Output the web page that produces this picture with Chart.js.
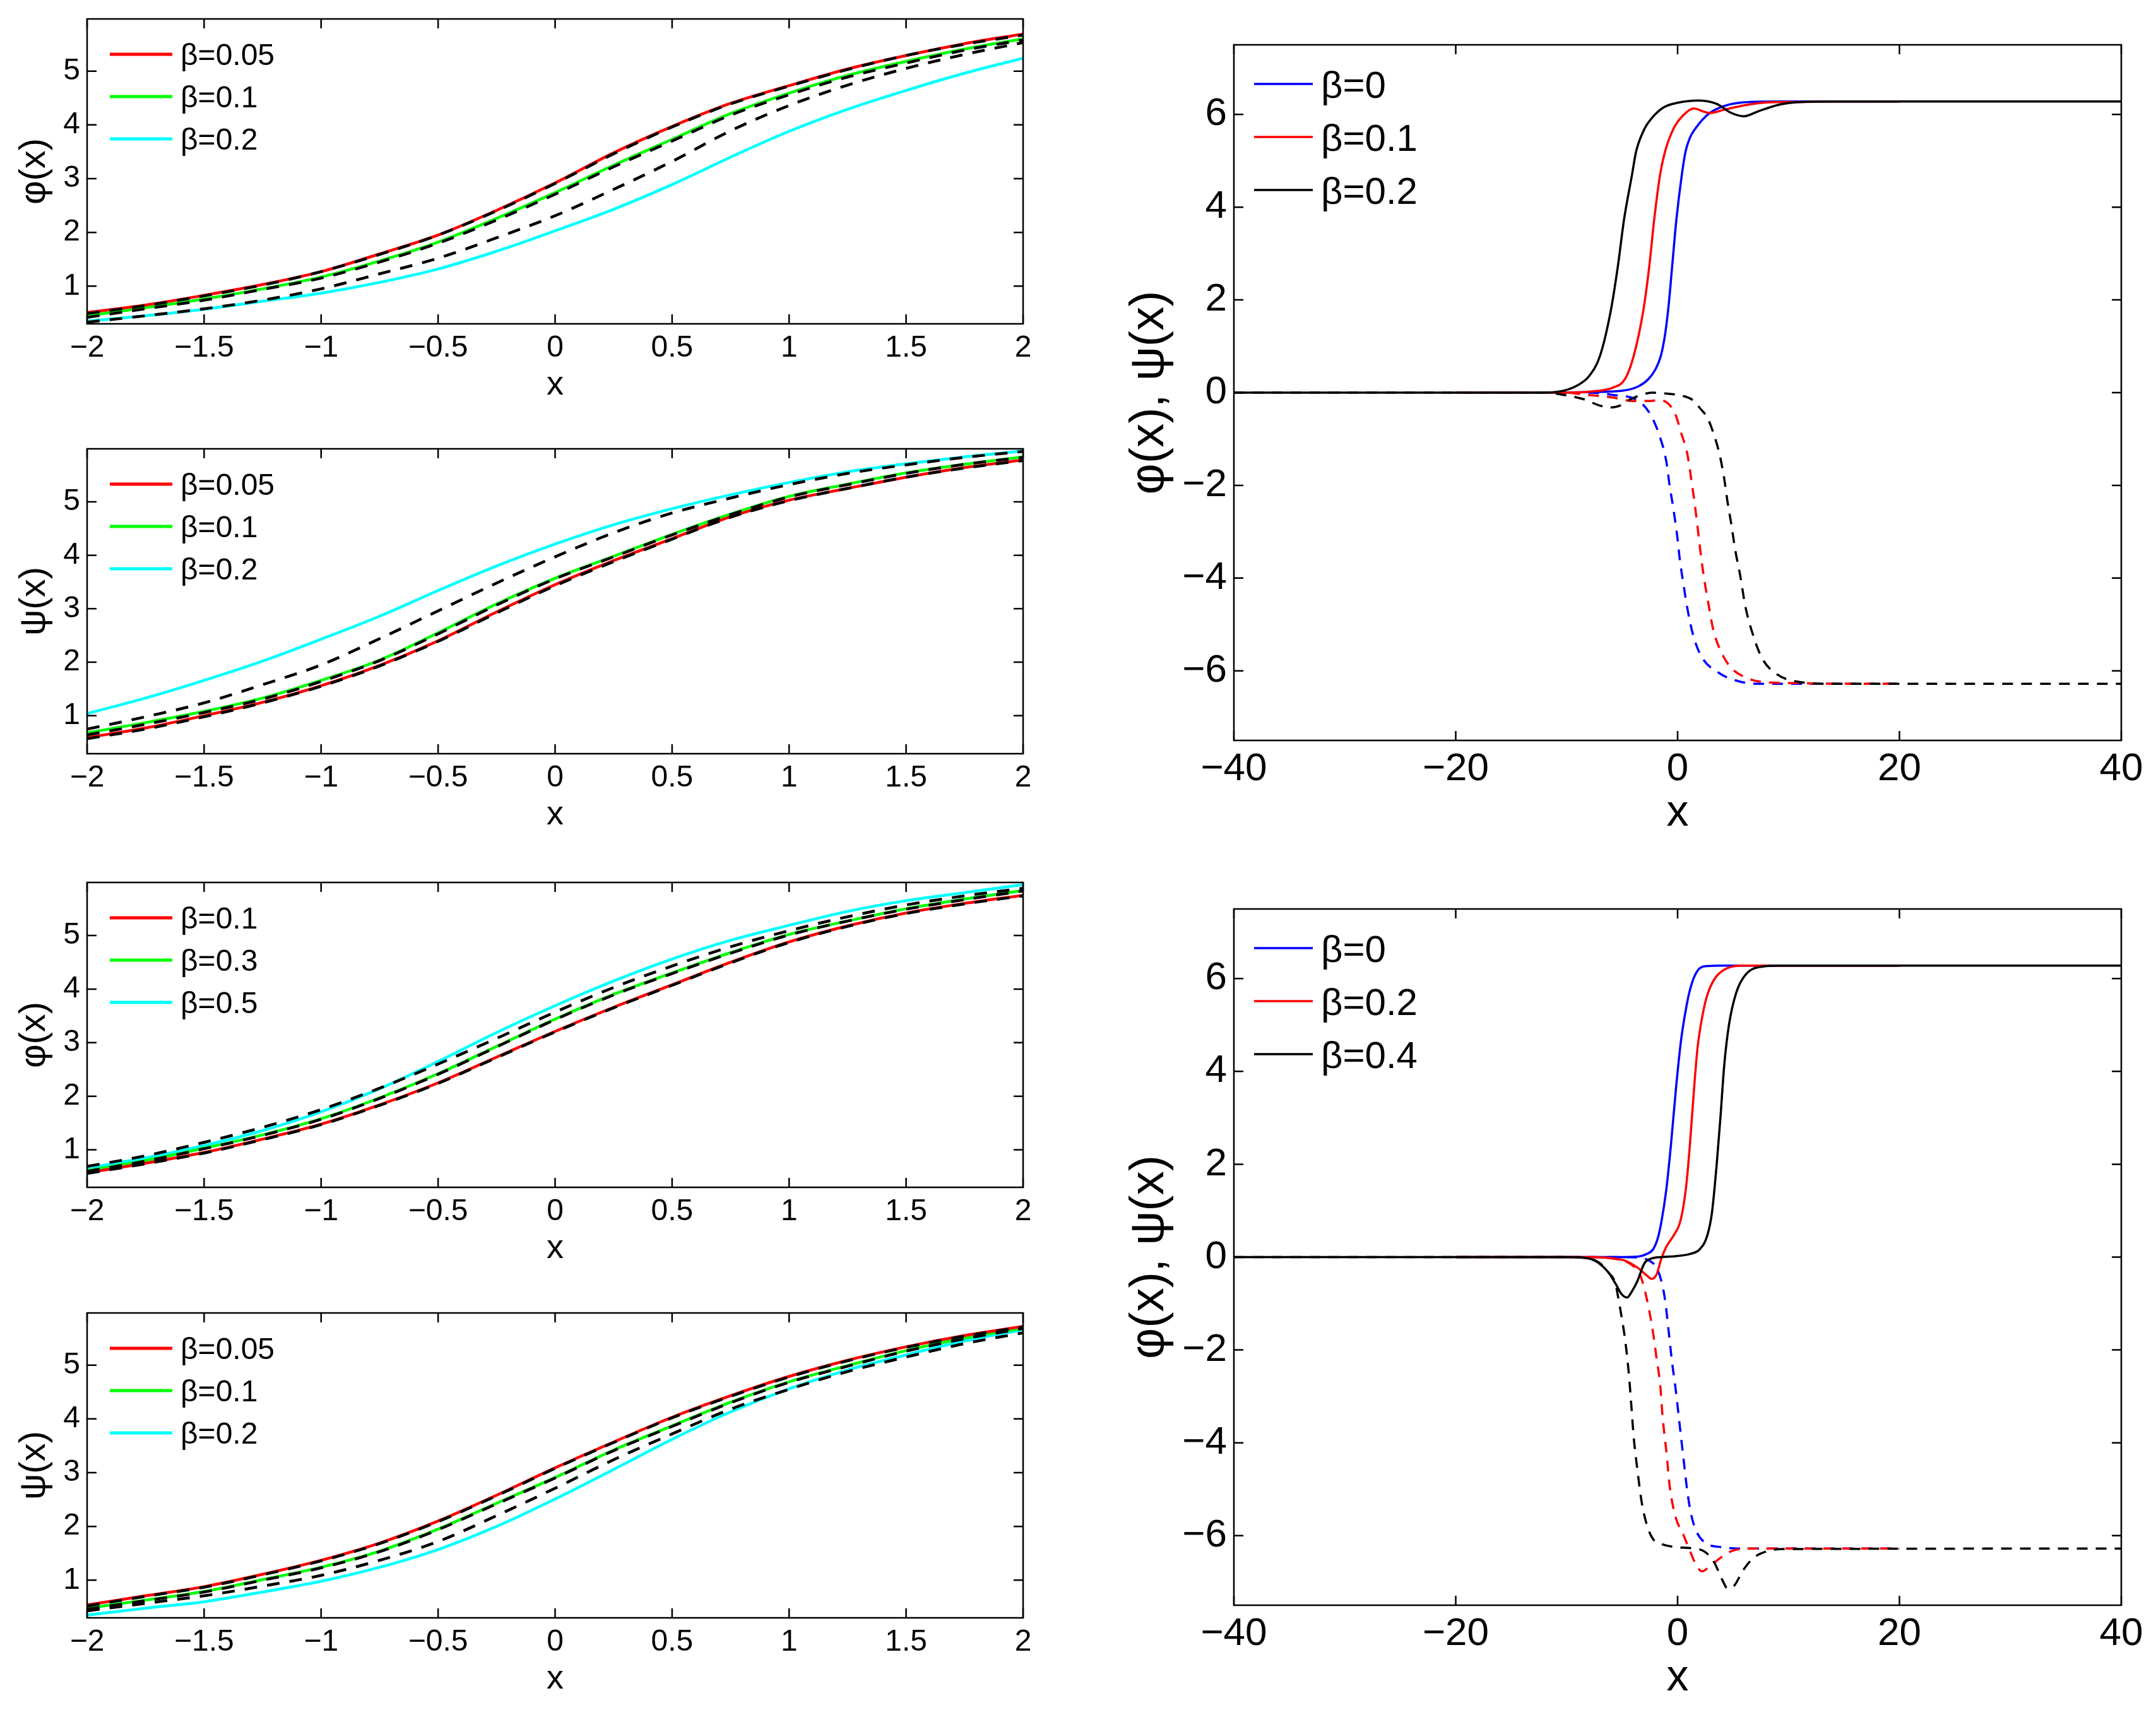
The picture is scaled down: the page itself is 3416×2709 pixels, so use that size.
<!DOCTYPE html>
<html><head><meta charset="utf-8">
<script src="https://cdn.jsdelivr.net/npm/chart.js@4/dist/chart.umd.min.js"></script>
<style>
html,body{margin:0;padding:0;background:#fff;}
body{width:3416px;height:2709px;position:relative;overflow:hidden;}
canvas{position:absolute;}
</style></head><body>
<canvas id="c1"></canvas><canvas id="c2"></canvas><canvas id="c3"></canvas><canvas id="c4"></canvas>
<canvas id="c5"></canvas><canvas id="c6"></canvas>
<script>
// ---------- tick labels ----------
const X_TICKS_LEFT = [-2,-1.5,-1,-0.5,0,0.5,1,1.5,2];
const Y_TICKS_LEFT = [1,2,3,4,5];
const X_TICKS_RIGHT = [-40,-20,0,20,40];
const Y_TICKS_RIGHT = [-6,-4,-2,0,2,4,6];

// ---------- left panels: common x grid ----------
const X_LEFT = [-2,-1.75,-1.5,-1.25,-1,-0.75,-0.5,-0.25,0,0.25,0.5,0.75,1,1.25,1.5,1.75,2];

// panel 1: phi(x), beta = 0.05, 0.1, 0.2
const P1_LABELS = ['β=0.05','β=0.1','β=0.2'];
const P1_RED   = [0.51,0.65,0.83,1.03,1.27,1.60,1.95,2.41,2.92,3.48,3.97,4.40,4.73,5.04,5.29,5.51,5.69];
const P1_GREEN = [0.45,0.60,0.76,0.95,1.17,1.47,1.82,2.26,2.74,3.25,3.73,4.21,4.59,4.92,5.18,5.41,5.60];
const P1_CYAN  = [0.35,0.45,0.57,0.72,0.87,1.07,1.32,1.65,2.03,2.43,2.89,3.40,3.88,4.29,4.64,4.96,5.24];
const P1_DASH_A = [0.49,0.64,0.82,1.02,1.27,1.59,1.95,2.40,2.91,3.46,3.96,4.39,4.72,5.03,5.29,5.50,5.67];
const P1_DASH_B = [0.42,0.58,0.74,0.94,1.15,1.45,1.80,2.23,2.71,3.22,3.70,4.18,4.56,4.89,5.15,5.39,5.58];
const P1_DASH_C = [0.33,0.45,0.58,0.74,0.95,1.23,1.52,1.90,2.31,2.80,3.32,3.89,4.36,4.74,5.05,5.31,5.53];

// panel 2: psi(x), beta = 0.05, 0.1, 0.2
const P2_LABELS = ['β=0.05','β=0.1','β=0.2'];
const P2_RED   = [0.59,0.77,1.00,1.25,1.56,1.94,2.40,2.94,3.45,3.90,4.31,4.72,5.03,5.25,5.46,5.64,5.78];
const P2_GREEN = [0.68,0.87,1.08,1.33,1.66,2.04,2.55,3.09,3.57,3.98,4.39,4.77,5.10,5.33,5.54,5.70,5.84];
const P2_CYAN  = [1.04,1.33,1.66,2.02,2.43,2.86,3.34,3.80,4.21,4.57,4.87,5.13,5.36,5.56,5.71,5.84,5.95];
const P2_DASH_A = [0.57,0.75,0.98,1.24,1.55,1.93,2.39,2.92,3.43,3.88,4.30,4.71,5.02,5.25,5.46,5.63,5.77];
const P2_DASH_B = [0.64,0.84,1.06,1.31,1.64,2.03,2.53,3.07,3.56,3.97,4.38,4.76,5.09,5.32,5.53,5.70,5.83];
const P2_DASH_C = [0.75,0.98,1.24,1.58,1.95,2.44,2.96,3.48,3.97,4.42,4.79,5.07,5.32,5.53,5.69,5.83,5.94];

// panel 3: phi(x), beta = 0.1, 0.3, 0.5
const P3_LABELS = ['β=0.1','β=0.3','β=0.5'];
const P3_RED   = [0.57,0.75,0.95,1.20,1.48,1.84,2.25,2.73,3.21,3.66,4.08,4.50,4.88,5.18,5.42,5.60,5.75];
const P3_GREEN = [0.61,0.80,1.03,1.28,1.58,1.97,2.42,2.93,3.44,3.90,4.30,4.68,5.02,5.27,5.50,5.68,5.84];
const P3_CYAN  = [0.66,0.85,1.08,1.36,1.71,2.14,2.65,3.19,3.69,4.15,4.56,4.91,5.19,5.45,5.65,5.80,5.95];
const P3_DASH_A = [0.56,0.74,0.94,1.19,1.47,1.83,2.24,2.72,3.20,3.65,4.07,4.49,4.87,5.17,5.41,5.59,5.74];
const P3_DASH_B = [0.60,0.79,1.02,1.27,1.57,1.96,2.41,2.92,3.43,3.89,4.29,4.67,5.01,5.27,5.49,5.67,5.83];
const P3_DASH_C = [0.69,0.89,1.14,1.42,1.75,2.15,2.60,3.08,3.57,4.03,4.43,4.79,5.09,5.35,5.57,5.74,5.88];

// panel 4: psi(x), beta = 0.05, 0.1, 0.2
const P4_LABELS = ['β=0.05','β=0.1','β=0.2'];
const P4_RED   = [0.54,0.71,0.88,1.11,1.37,1.69,2.10,2.58,3.09,3.57,4.03,4.43,4.79,5.09,5.34,5.55,5.72];
const P4_GREEN = [0.48,0.63,0.79,1.01,1.24,1.54,1.95,2.43,2.91,3.42,3.87,4.31,4.69,4.99,5.27,5.50,5.69];
const P4_CYAN  = [0.35,0.48,0.60,0.78,0.98,1.24,1.57,2.00,2.51,3.06,3.62,4.13,4.56,4.91,5.19,5.45,5.66];
const P4_DASH_A = [0.52,0.70,0.87,1.10,1.36,1.68,2.09,2.57,3.08,3.56,4.02,4.42,4.78,5.08,5.33,5.54,5.71];
const P4_DASH_B = [0.46,0.62,0.78,1.00,1.23,1.53,1.94,2.42,2.90,3.41,3.86,4.30,4.68,4.98,5.26,5.49,5.68];
const P4_DASH_C = [0.43,0.57,0.71,0.89,1.09,1.37,1.72,2.20,2.71,3.24,3.72,4.18,4.55,4.88,5.15,5.40,5.60];

// ---------- right top: beta = 0, 0.1, 0.2 ----------
const RT_LABELS = ['β=0','β=0.1','β=0.2'];
const RT_BLUE_X = [-20,-12,-8,-5,-3.5,-2.6,-2.0,-1.5,-1.1,-0.8,-0.48,-0.11,0.39,0.72,1.1,1.59,2.9,4.2,6,9,20];
const RT_BLUE_Y = [0,0,0.01,0.04,0.14,0.3,0.5,0.8,1.3,1.9,2.75,3.73,4.71,5.2,5.49,5.69,6.03,6.18,6.26,6.28,6.28];
const RT_RED_X = [-20,-10,-8,-5.8,-4.72,-3.96,-3.09,-2.54,-2.11,-1.57,-1.13,-0.37,0.5,1.48,2.24,2.9,4.2,6.15,8.3,20];
const RT_RED_Y = [0,0,0.02,0.11,0.3,0.79,1.77,2.75,3.73,4.71,5.2,5.69,5.98,6.13,6.07,6.03,6.1,6.2,6.26,6.28];
const RT_BLACK_X = [-40,-12,-10,-9,-8,-7,-6.02,-5.37,-4.83,-4.1,-3.74,-2.98,-2.1,-1.2,0,1.8,3.5,4.85,6,7.2,9,10.7,14,40];
const RT_BLACK_Y = [0,0,0.06,0.16,0.35,0.79,1.77,2.75,3.73,4.71,5.2,5.69,5.98,6.16,6.25,6.3,6.23,6.03,5.96,6.06,6.2,6.26,6.28,6.28];
const RT_BLUE_DX = [-20,-8,-5.8,-3.6,-2.5,-1.6,-1.02,-0.72,-0.39,-0.04,0.2,0.54,0.91,1.37,2.1,3.7,5.6,8,20];
const RT_BLUE_DY = [0,0,-0.05,-0.17,-0.45,-0.95,-1.48,-2.0,-2.49,-3.08,-3.6,-4.15,-4.69,-5.2,-5.67,-6.04,-6.23,-6.28,-6.28];
const RT_RED_DX = [-20,-10,-8.5,-6,-4,-2.5,-1.6,-0.6,-0.15,0.3,0.9,1.25,1.6,1.9,2.15,2.45,2.85,3.25,3.85,4.7,6.2,8.3,20];
const RT_RED_DY = [0,0,-0.04,-0.1,-0.18,-0.18,-0.16,-0.3,-0.5,-0.85,-1.35,-1.9,-2.5,-3.1,-3.6,-4.1,-4.65,-5.15,-5.55,-5.9,-6.15,-6.25,-6.28];
const RT_BLACK_DX = [-40,-12,-10.5,-8.5,-7,-6,-5,-4.3,-3.3,-2.3,-1,0.3,1.3,2,2.7,3.2,3.8,4.2,4.5,4.85,5.2,5.65,6.1,6.7,7.6,9,11,14,40];
const RT_BLACK_DY = [0,0,-0.04,-0.14,-0.28,-0.32,-0.26,-0.15,-0.05,0,-0.02,-0.06,-0.15,-0.33,-0.55,-0.85,-1.35,-1.85,-2.35,-2.85,-3.4,-3.95,-4.6,-5.15,-5.72,-6.08,-6.24,-6.28,-6.28];

// ---------- right bottom: beta = 0, 0.2, 0.4 ----------
const RB_LABELS = ['β=0','β=0.2','β=0.4'];
const RB_BLUE_X = [-20,-5,-3.6,-2.76,-2.2,-1.78,-1.46,-1.02,-0.59,-0.15,0.28,0.72,1.15,1.8,2.67,4,20];
const RB_BLUE_Y = [0,0,0.01,0.07,0.17,0.41,0.76,1.45,2.44,3.62,4.61,5.3,5.79,6.17,6.27,6.28,6.28];
const RB_RED_X = [-20,-9,-8,-5.8,-4.7,-3.6,-2.76,-2.33,-1.89,-1.46,-1.02,-0.37,0.17,0.5,0.83,1.15,1.48,1.8,2.24,2.67,3.33,4.2,5.7,20];
const RB_RED_Y = [0,0,0,-0.03,-0.08,-0.23,-0.4,-0.47,-0.37,-0.03,0.22,0.46,0.71,1.06,1.65,2.54,3.62,4.51,5.2,5.64,5.99,6.19,6.28,6.28];
const RB_BLACK_X = [-40,-10,-8,-7.1,-6.24,-5.6,-5.04,-4.54,-4.07,-3.63,-2.98,-2.33,-1.46,-0.15,1.15,2.0,2.67,3.1,3.54,3.87,4.2,4.63,5.28,6.15,7.67,9.4,40];
const RB_BLACK_Y = [0,0,-0.03,-0.13,-0.33,-0.57,-0.8,-0.87,-0.72,-0.52,-0.13,-0.03,0,0.02,0.07,0.17,0.46,0.96,2.04,3.03,4.12,5.0,5.69,6.09,6.26,6.28,6.28];
const RB_BLUE_DX = [-20,-5,-3.6,-2.54,-1.89,-1.46,-1.13,-0.8,-0.48,-0.15,0.17,0.5,0.83,1.15,1.59,2.46,4,6,20];
const RB_BLUE_DY = [0,0,-0.01,-0.08,-0.23,-0.52,-0.92,-1.61,-2.3,-2.89,-3.58,-4.27,-4.96,-5.46,-5.85,-6.15,-6.25,-6.28,-6.28];
const RB_RED_DX = [-20,-8,-5.8,-4.07,-3.35,-2.65,-2.2,-1.9,-1.57,-1.35,-1.02,-0.7,-0.15,0.5,1.15,1.59,2.2,3.0,3.76,4.5,6.2,8,20];
const RB_RED_DY = [0,0,-0.03,-0.18,-0.4,-1.04,-1.65,-2.17,-2.75,-3.45,-4.17,-4.96,-5.62,-5.97,-6.35,-6.59,-6.77,-6.64,-6.5,-6.37,-6.28,-6.28,-6.28];
const RB_BLACK_DX = [-40,-10,-8,-7,-6.24,-5.6,-5.37,-5.04,-4.72,-4.4,-4.17,-3.96,-3.63,-3.25,-2.76,-2.2,-1.6,-0.15,1.15,2.46,3.33,4,4.52,5.07,5.93,6.8,7.9,9.4,40];
const RB_BLACK_DY = [0,0,-0.03,-0.13,-0.33,-0.57,-0.85,-1.3,-1.8,-2.5,-3.2,-3.87,-4.57,-5.26,-5.78,-6.08,-6.17,-6.25,-6.27,-6.35,-6.59,-6.94,-7.14,-7.09,-6.74,-6.49,-6.35,-6.29,-6.28];

// ---------- helpers ----------
const FONT = "'Liberation Sans', Arial, Helvetica, sans-serif";
const RED = '#ff0000', GREEN = '#00ff00', CYAN = '#00ffff', BLUE = '#0000ff', BLACK = '#000000';
const fmt = v => (v < 0 ? '\u2212' : '') + String(Math.abs(Math.round(v * 100) / 100));
const pts = (xs, ys) => xs.map((x, i) => ({x: x, y: ys[i]}));
function ds(data, color, width, dash, order) {
  return {data: data, borderColor: color, borderWidth: width, borderDash: dash || [],
          pointRadius: 0, pointHoverRadius: 0, fill: false, cubicInterpolationMode: 'monotone',
          order: order, clip: 0, borderCapStyle: 'butt', borderJoinStyle: 'round'};
}

function makeChart(id, f, s) {
  const cv = document.getElementById(id);
  cv.width = f.cw; cv.height = f.ch;
  cv.style.left = f.cx + 'px'; cv.style.top = f.cy + 'px';
  cv.style.width = f.cw + 'px'; cv.style.height = f.ch + 'px';
  const padTop = f.ay - f.cy, padRight = f.cx + f.cw - (f.ax + f.aw);
  const yW = f.ax - f.cx, xH = f.cy + f.ch - (f.ay + f.ah);

  const boxPlugin = {
    id: 'matlabBox',
    afterDatasetsDraw(chart) {
      const ctx = chart.ctx, a = chart.chartArea, xs = chart.scales.x, ys = chart.scales.y;
      ctx.save();
      ctx.setLineDash([]);
      ctx.strokeStyle = '#000';
      ctx.lineWidth = s.boxWidth;
      ctx.beginPath();
      ctx.rect(a.left, a.top, a.right - a.left, a.bottom - a.top);
      ctx.stroke();
      const L = s.tickLen;
      ctx.beginPath();
      xs.ticks.forEach(t => {
        const px = xs.getPixelForValue(t.value);
        ctx.moveTo(px, a.bottom); ctx.lineTo(px, a.bottom - L);
        ctx.moveTo(px, a.top); ctx.lineTo(px, a.top + L);
      });
      ys.ticks.forEach(t => {
        const py = ys.getPixelForValue(t.value);
        ctx.moveTo(a.left, py); ctx.lineTo(a.left + L, py);
        ctx.moveTo(a.right, py); ctx.lineTo(a.right - L, py);
      });
      ctx.stroke();
      ctx.restore();
    }
  };
  const legendPlugin = {
    id: 'innerLegend',
    afterDraw(chart) {
      const ctx = chart.ctx, a = chart.chartArea, g = s.legend;
      ctx.save();
      g.items.forEach((it, i) => {
        const y = a.top + g.y0 + i * g.dy;
        ctx.setLineDash([]);
        ctx.strokeStyle = it.color; ctx.lineWidth = g.lineWidth; ctx.lineCap = 'butt';
        ctx.beginPath(); ctx.moveTo(a.left + g.x1, y); ctx.lineTo(a.left + g.x2, y); ctx.stroke();
        ctx.fillStyle = '#000';
        ctx.font = g.size + 'px ' + FONT;
        ctx.textAlign = 'left'; ctx.textBaseline = 'alphabetic';
        ctx.fillText(it.label, a.left + g.tx, y + g.size * 0.36);
      });
      ctx.restore();
    }
  };

  new Chart(cv, {
    type: 'line',
    data: {datasets: s.datasets},
    options: {
      responsive: false, animation: false, devicePixelRatio: 1, events: [],
      layout: {padding: {top: padTop, right: padRight, left: 0, bottom: 0}},
      plugins: {legend: {display: false}, tooltip: {enabled: false}},
      scales: {
        x: {
          type: 'linear', position: 'bottom', min: s.xmin, max: s.xmax,
          grid: {display: false, drawTicks: false}, border: {display: false},
          ticks: {autoSkip: false, maxRotation: 0, minRotation: 0, padding: s.xPad, color: '#000',
                  font: {family: FONT, size: s.tickSize, lineHeight: 1.2}, callback: v => fmt(v)},
          title: {display: true, text: s.xTitle, color: '#000',
                  font: {family: FONT, size: s.xTitleSize, lineHeight: 1.2}, padding: {top: 0, bottom: 0}},
          afterBuildTicks: sc => { sc.ticks = s.xTicks.map(v => ({value: v})); },
          afterFit: sc => { sc.height = xH; }
        },
        y: {
          type: 'linear', position: 'left', min: s.ymin, max: s.ymax,
          grid: {display: false, drawTicks: false}, border: {display: false},
          ticks: {autoSkip: false, padding: s.yPad, color: '#000',
                  font: {family: FONT, size: s.tickSize, lineHeight: 1.2}, callback: v => fmt(v)},
          title: {display: true, text: s.yTitle, color: '#000',
                  font: {family: FONT, size: s.yTitleSize, lineHeight: 1.2}, padding: {top: s.yTitlePad, bottom: 0}},
          afterBuildTicks: sc => { sc.ticks = s.yTicks.map(v => ({value: v})); },
          afterFit: sc => { sc.width = yW; }
        }
      }
    },
    plugins: [boxPlugin, legendPlugin]
  });
}

// ---------- left panels ----------
const LW = 4.5, LDASH = [20, 16];
function leftSpec(red, green, cyan, da, db, dc, labels, yTitle, ymin, ymax) {
  return {
    datasets: [
      ds(pts(X_LEFT, red), RED, LW, null, 2),
      ds(pts(X_LEFT, green), GREEN, LW, null, 2),
      ds(pts(X_LEFT, cyan), CYAN, LW, null, 2),
      ds(pts(X_LEFT, da), BLACK, LW, LDASH, 1),
      ds(pts(X_LEFT, db), BLACK, LW, LDASH, 1),
      ds(pts(X_LEFT, dc), BLACK, LW, LDASH, 1)
    ],
    xmin: -2, xmax: 2, ymin: ymin, ymax: ymax,
    xTicks: X_TICKS_LEFT, yTicks: Y_TICKS_LEFT,
    xTitle: 'x', yTitle: yTitle,
    tickSize: 48, xTitleSize: 54, yTitleSize: 58, xPad: 10, yPad: 11, yTitlePad: 20,
    boxWidth: 2.5, tickLen: 15,
    legend: {items: [{label: labels[0], color: RED}, {label: labels[1], color: GREEN}, {label: labels[2], color: CYAN}],
             x1: 36, x2: 135, tx: 148, y0: 56, dy: 67, size: 48, lineWidth: 5}
  };
}
const LFRAME = (ay) => ({cx: 0, cw: 1650, ax: 138, aw: 1483, cy: ay - 45, ay: ay, ah: 483, ch: 45 + 483 + 130});

makeChart('c1', LFRAME(30), leftSpec(P1_RED, P1_GREEN, P1_CYAN, P1_DASH_A, P1_DASH_B, P1_DASH_C, P1_LABELS, 'φ(x)', 0.3, 5.97));
makeChart('c2', LFRAME(711), leftSpec(P2_RED, P2_GREEN, P2_CYAN, P2_DASH_A, P2_DASH_B, P2_DASH_C, P2_LABELS, 'ψ(x)', 0.29, 5.99));
makeChart('c3', LFRAME(1398), leftSpec(P3_RED, P3_GREEN, P3_CYAN, P3_DASH_A, P3_DASH_B, P3_DASH_C, P3_LABELS, 'φ(x)', 0.3, 5.99));
makeChart('c4', LFRAME(2080), leftSpec(P4_RED, P4_GREEN, P4_CYAN, P4_DASH_A, P4_DASH_B, P4_DASH_C, P4_LABELS, 'ψ(x)', 0.3, 5.97));

// ---------- right panels ----------
const RW = 3.5, RDASH = [17, 13];
function rightSpec(sets, labels) {
  return {
    datasets: [
      ds(pts(sets[0][0], sets[0][1]), BLUE, RW, null, 5),
      ds(pts(sets[3][0], sets[3][1]), BLUE, RW, RDASH, 4),
      ds(pts(sets[1][0], sets[1][1]), RED, RW, null, 3),
      ds(pts(sets[4][0], sets[4][1]), RED, RW, RDASH, 2),
      ds(pts(sets[2][0], sets[2][1]), BLACK, RW, null, 1),
      ds(pts(sets[5][0], sets[5][1]), BLACK, RW, RDASH, 0)
    ],
    xmin: -40, xmax: 40, ymin: -7.5, ymax: 7.5,
    xTicks: X_TICKS_RIGHT, yTicks: Y_TICKS_RIGHT,
    xTitle: 'x', yTitle: 'φ(x), ψ(x)',
    tickSize: 62, xTitleSize: 70, yTitleSize: 76, xPad: 9, yPad: 11, yTitlePad: 76,
    boxWidth: 2.5, tickLen: 15,
    legend: {items: [{label: labels[0], color: BLUE}, {label: labels[1], color: RED}, {label: labels[2], color: BLACK}],
             x1: 32, x2: 125, tx: 138, y0: 62, dy: 84, size: 60, lineWidth: 3.7}
  };
}
const RFRAME = (ay, ah) => ({cx: 1700, cw: 1716, ax: 1955, aw: 1406, cy: ay - 55, ay: ay, ah: ah, ch: 55 + ah + 158});

makeChart('c5', RFRAME(71, 1102), rightSpec([
  [RT_BLUE_X, RT_BLUE_Y], [RT_RED_X, RT_RED_Y], [RT_BLACK_X, RT_BLACK_Y],
  [RT_BLUE_DX, RT_BLUE_DY], [RT_RED_DX, RT_RED_DY], [RT_BLACK_DX, RT_BLACK_DY]], RT_LABELS));
makeChart('c6', RFRAME(1440, 1103), rightSpec([
  [RB_BLUE_X, RB_BLUE_Y], [RB_RED_X, RB_RED_Y], [RB_BLACK_X, RB_BLACK_Y],
  [RB_BLUE_DX, RB_BLUE_DY], [RB_RED_DX, RB_RED_DY], [RB_BLACK_DX, RB_BLACK_DY]], RB_LABELS));
</script>
</body></html>
